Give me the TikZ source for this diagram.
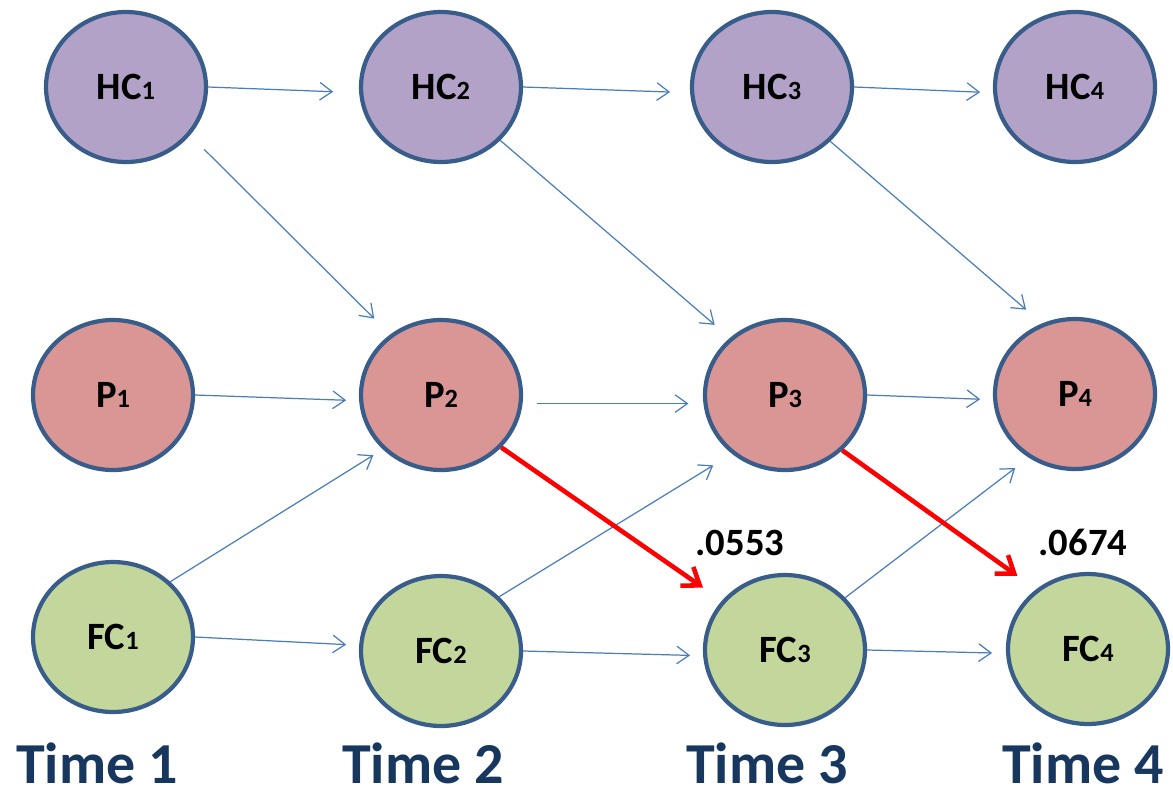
\documentclass[tikz,border=0pt]{standalone}
\usepackage{fontspec}
\setmainfont{Carlito}
\usetikzlibrary{arrows.meta, positioning, shapes.geometric}

\definecolor{rimblue}{HTML}{385D8A}
\definecolor{hcfill}{HTML}{B3A2C7}
\definecolor{pfill}{HTML}{D99694}
\definecolor{fcfill}{HTML}{C3D69B}
\definecolor{linkblue}{HTML}{4A7EBB}
\definecolor{timeblue}{HTML}{17375E}

\newcommand{\idx}[1]{{\fontsize{15}{15}\selectfont #1}}

\tikzset{
        x=0.02cm, y=-0.02cm, % one unit is one pixel of the target, y grows downwards
        wave/.style={ % sets properties for each measured variable
		ellipse,
		draw=rimblue,
		line width=2.4pt,
		minimum width=3.2cm,
		minimum height=3cm,
		inner sep=0pt,
		font=\fontsize{22}{22}\selectfont\bfseries,
	  },
        hc wave/.style={wave, fill=hcfill},
        p wave/.style={wave, fill=pfill},
        fc wave/.style={wave, fill=fcfill},
        link/.style={-{Straight Barb[length=7pt,width=10pt]}, draw=linkblue, line width=0.7pt},
        cross/.style={-{Straight Barb[length=9pt,width=13pt]}, draw=red, line width=2.6pt},
        coef/.style={anchor=base, inner sep=0pt, font=\fontsize{22}{22}\selectfont\bfseries},
        time/.style={anchor=base, inner sep=0pt, text=timeblue, font=\fontsize{33}{33}\selectfont\bfseries},
    }

\begin{document}
\begin{tikzpicture}
    \useasboundingbox (0,0) rectangle (1173,795);
    % first row
    \node [hc wave] (hc1) at (126,87)  {HC\idx{1}};
    \node [hc wave] (hc2) at (441,87)  {HC\idx{2}};
    \node [hc wave] (hc3) at (772,87)  {HC\idx{3}};
    \node [hc wave] (hc4) at (1075,87) {HC\idx{4}};
    % second row
    \node [p wave] (p1) at (113,395)  {P\idx{1}};
    \node [p wave] (p2) at (441,395)  {P\idx{2}};
    \node [p wave] (p3) at (785,395)  {P\idx{3}};
    \node [p wave] (p4) at (1075,394) {P\idx{4}};
    % third row
    \node [fc wave] (fc1) at (113,637)  {FC\idx{1}};
    \node [fc wave] (fc2) at (441,651)  {FC\idx{2}};
    \node [fc wave] (fc3) at (785,650)  {FC\idx{3}};
    \node [fc wave] (fc4) at (1088,649) {FC\idx{4}};

    \draw [link, shorten >=0.52cm] (hc1.east) -- (hc2.184);
    \draw [link, shorten >=0.4cm]  (hc2.east) -- (hc3.184);
    \draw [link, shorten >=0.26cm] (hc3.east) -- (hc4.184);
    \draw [link, shorten <=0.4cm, shorten >=0.45cm] (hc1.-37) -- (p2.130);
    \draw [link, shorten >=0.4cm]  (hc2.-42) -- (p3.134);
    \draw [link, shorten >=0.42cm] (hc3.-43) -- (p4.115);
    \draw [link, shorten >=0.26cm] (p1.east) -- (p2.184);
    \draw [link, shorten <=0.28cm, shorten >=0.3cm] (p2.-6) -- (p3.186);
    \draw [link, shorten >=0.26cm] (p3.east) -- (p4.184);
    \draw [link, shorten >=0.22cm] (fc1.44) -- (p2.223);
    \draw [link, shorten >=0.44cm] (fc2.43) -- (p3.228);
    \draw [link, shorten >=0.34cm] (fc3.41) -- (p4.234);
    \draw [link, shorten >=0.26cm] (fc1.east) -- (fc2.176);
    \draw [link, shorten >=0.26cm] (fc2.east) -- (fc3.184);
    \draw [link, shorten >=0.28cm] (fc3.east) -- (fc4.183);
    \draw [cross, shorten >=0.46cm] (p2.-41) -- (fc3.142);
    \draw [cross, shorten >=0.46cm] (p3.-44) -- (fc4.131);

    \node [coef] (c3) at (740,555)  {.0553};
    \node [coef] (c4) at (1083,555) {.0674};

    \node [time] (t1) at (97,783)   {Time 1};
    \node [time] (t2) at (423,783)  {Time 2};
    \node [time] (t3) at (767,783)  {Time 3};
    \node [time] (t4) at (1083,783) {Time 4};
\end{tikzpicture}
\end{document}
